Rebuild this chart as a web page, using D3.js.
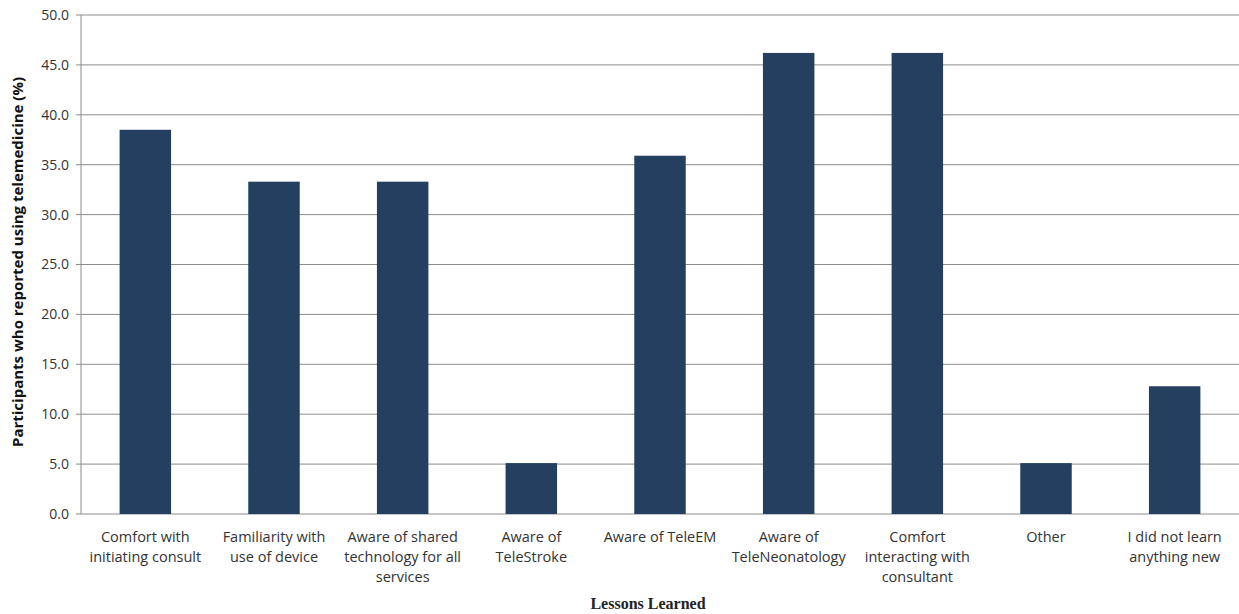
<html>
<head>
<script src="https://d3js.org/d3.v7.min.js"></script>
<style>
  body { margin: 0; background: #fff; }
  text { font-family: "Open Sans", "Liberation Sans", sans-serif; }
</style>
</head>
<body>
</body>
<script>
    // data
    let categories = [
        "Comfort with initiating consult",
        "Familiarity with use of device",
        "Aware of shared technology for all services",
        "Aware of TeleStroke",
        "Aware of TeleEM",
        "Aware of TeleNeonatology",
        "Comfort interacting with consultant",
        "Other",
        "I did not learn anything new"
    ];
    let labelLines = [
        ["Comfort with", "initiating consult"],
        ["Familiarity with", "use of device"],
        ["Aware of shared", "technology for all", "services"],
        ["Aware of", "TeleStroke"],
        ["Aware of TeleEM"],
        ["Aware of", "TeleNeonatology"],
        ["Comfort", "interacting with", "consultant"],
        ["Other"],
        ["I did not learn", "anything new"]
    ];
    let values = [38.5, 33.3, 33.3, 5.1, 35.9, 46.2, 46.2, 5.1, 12.8];
    let ticks = [0, 5, 10, 15, 20, 25, 30, 35, 40, 45, 50];

    var margin = {top: 15, right: 0, bottom: 100, left: 81};
    var width = 1239 - margin.left - margin.right,
        height = 614 - margin.top - margin.bottom;

    let svg = d3.select("body").append("svg")
        .attr("width", 1239)
        .attr("height", 614);

    let g = svg.append("g")
        .attr("transform", "translate(" + margin.left + "," + margin.top + ")");

    let x = d3.scaleBand()
        .domain(categories)
        .range([0, width])
        .paddingInner(0.6)
        .paddingOuter(0.3);

    let y = d3.scaleLinear()
        .domain([0, 50])
        .range([height, 0]);

    // gridlines
    ticks.forEach(t =>
        g.append("line")
            .attr("x1", -5)
            .attr("x2", width)
            .attr("y1", y(t))
            .attr("y2", y(t))
            .attr("stroke", "#8c8c8c")
            .attr("stroke-width", 1)
    );

    ticks.forEach(t =>
        g.append("text")
            .attr("x", -12)
            .attr("y", y(t))
            .attr("dy", "0.35em")
            .attr("text-anchor", "end")
            .attr("font-size", 14)
            .attr("fill", "#333")
            .text(t.toFixed(1))
    );

    // y axis line
    g.append("line")
        .attr("x1", 0).attr("x2", 0)
        .attr("y1", 0).attr("y2", height)
        .attr("stroke", "#8c8c8c");

    // bars
    g.selectAll("rect.bar")
        .data(values)
        .enter().append("rect")
        .attr("class", "bar")
        .attr("x", (d, i) => x(categories[i]))
        .attr("y", d => y(d))
        .attr("width", x.bandwidth())
        .attr("height", d => height - y(d))
        .attr("fill", "#243f60");

    // category labels
    labelLines.forEach((lines, i) => {
        let cx = x(categories[i]) + x.bandwidth() / 2;
        let t = g.append("text")
            .attr("text-anchor", "middle")
            .attr("font-size", 14.5)
            .attr("fill", "#333");
        lines.forEach((l, j) =>
            t.append("tspan")
                .attr("x", cx)
                .attr("y", height + 28 + j * 20)
                .text(l)
        );
    });

    // axis titles
    svg.append("text")
        .attr("x", 648)
        .attr("y", 609)
        .attr("text-anchor", "middle")
        .style("font-family", "'Liberation Serif', serif")
        .attr("font-size", 16)
        .attr("font-weight", "bold")
        .attr("fill", "#222")
        .text("Lessons Learned");

    svg.append("text")
        .attr("transform", "translate(23,262) rotate(-90)")
        .attr("text-anchor", "middle")
        .attr("font-size", 15)
        .attr("font-weight", "bold")
        .attr("fill", "#111")
        .text("Participants who reported using telemedicine (%)");
</script>
</html>
